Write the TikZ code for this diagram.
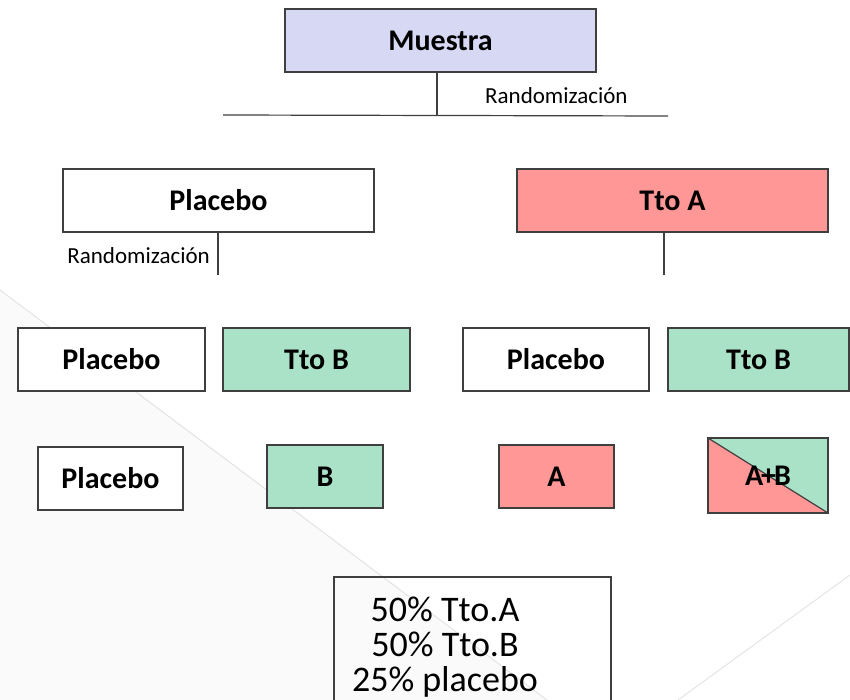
\documentclass[tikz,border=0pt]{standalone}
\usepackage{fontspec}
\setmainfont{Carlito}
\definecolor{lav}{HTML}{D6D8F4}
\definecolor{salmon}{HTML}{FF9797}
\definecolor{mint}{HTML}{AAE2C8}
\definecolor{edge}{HTML}{3F3F3F}
\definecolor{bgray}{HTML}{FAFAFA}
\definecolor{lgray}{HTML}{E2E2E2}
\tikzset{
  box/.style={draw=edge, line width=1.3pt, inner sep=0pt, minimum height=63pt,
    font=\bfseries\fontsize{30}{36}\selectfont, text=black},
  conn/.style={draw=edge, line width=1.2pt},
  rlabel/.style={inner sep=0pt, font=\fontsize{23}{26}\selectfont},
}
\begin{document}
\begin{tikzpicture}[x=1pt,y=-1pt]
\useasboundingbox (0,0) rectangle (850,700);
% background
\fill[bgray] (0,290) -- (547,700) -- (0,700) -- cycle;
\draw[lgray, line width=0.9pt] (0,290) -- (547,700);
\draw[lgray, line width=0.9pt] (850,575) -- (678,700);

% top
\node[box, fill=lav, minimum width=311pt] (M) at (440.5,40.5) {Muestra};
\coordinate (mj) at (437,115);
\coordinate (hl) at (223,115);
\coordinate (hr) at (668,116);
\draw[conn] (M.south -| mj) -- (mj);
\draw[conn] (hl) -- (hr);
\node[rlabel, anchor=west] (r1) at (485,96) {Randomización};

% second row
\node[box, fill=white, minimum width=311pt] (P1) at (218.5,200.5) {Placebo};
\node[box, fill=salmon, minimum width=311pt] (TA) at (672.5,200.5) {Tto A};
\coordinate (pe) at (218,275);
\coordinate (ae) at (664,275);
\draw[conn] (P1.south -| pe) -- (pe);
\draw[conn] (TA.south -| ae) -- (ae);
\node[rlabel, anchor=east] (r2) at (210,256) {Randomización};

% third row
\node[box, fill=white, minimum width=187pt] (P2) at (111.5,359.5) {Placebo};
\node[box, fill=mint, minimum width=187pt] (TB1) at (316.5,359.5) {Tto B};
\node[box, fill=white, minimum width=186pt] (P3) at (556,359.5) {Placebo};
\node[box, fill=mint, minimum width=181pt] (TB2) at (758.5,359.5) {Tto B};

% fourth row
\node[box, fill=white, minimum width=145pt] (P4) at (110.5,478.5) {Placebo};
\node[box, fill=mint, minimum width=116pt] (B) at (325,476.5) {B};
\node[box, fill=salmon, minimum width=115pt] (A) at (556.5,476.5) {A};
\node[box, minimum width=120pt, minimum height=75pt,
  path picture={
    \fill[mint] (path picture bounding box.north west) -- (path picture bounding box.north east) -- (path picture bounding box.south east) -- cycle;
    \fill[salmon] (path picture bounding box.north west) -- (path picture bounding box.south west) -- (path picture bounding box.south east) -- cycle;
    \draw[edge, line width=1.2pt] (path picture bounding box.north west) -- (path picture bounding box.south east);
  }] (AB) at (768,475.5) {A\kern-2pt+\kern-2ptB};

% summary
\node[draw=edge, line width=1.2pt, minimum width=277pt, minimum height=133pt, inner sep=0pt] (S) at (472.5,643.5) {};
\node[inner sep=0pt, align=center, font=\fontsize{36}{35}\selectfont] (St) at (445,647) {50\% Tto.A\\50\% Tto.B\\25\% placebo};
\end{tikzpicture}
\end{document}
